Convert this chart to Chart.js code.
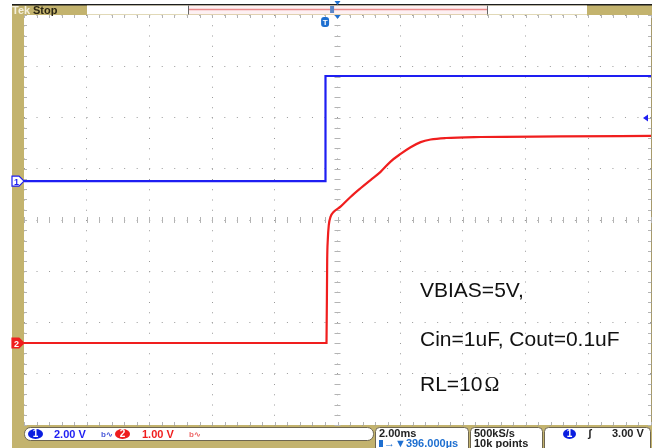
<!DOCTYPE html>
<html>
<head>
<meta charset="utf-8">
<script src="https://cdn.jsdelivr.net/npm/chart.js@4/dist/chart.umd.min.js"></script>
<style>
  html, body { margin: 0; padding: 0; background: #fff; }
  canvas { display: block; }
</style>
</head>
<body>
<canvas id="scope" width="657" height="448"></canvas>
<script>
// Time in ms relative to the trigger, amplitude in volts
const ch1Time  = [-9.604, 0.013, 0.013, 10.396];
const ch1Volts = [0, 0, 4.10, 4.10];

const ch2Time  = [-9.604, 0.045, 0.067, 0.086, 0.118, 0.173, 0.278, 0.492, 0.811, 1.131, 1.450,
                  1.770, 2.089, 2.409, 2.728, 3.048, 3.367, 3.847, 4.965, 7.52, 10.396];
const ch2Volts = [0, 0, 1.62, 2.01, 2.30, 2.46, 2.56, 2.66, 2.85, 3.02, 3.18,
                  3.34, 3.54, 3.69, 3.82, 3.92, 3.97, 4.00, 4.02, 4.03, 4.04];

const noteLines = ['VBIAS=5V,', 'Cin=1uF, Cout=0.1uF', 'RL=10'];

// horizontal: 2 ms/div, 10 divisions, screen centre 396 us after trigger
const timePerDiv = 2;
const timeCenter = 0.396;
const timeMin = timeCenter - 5 * timePerDiv;
const timeMax = timeCenter + 5 * timePerDiv;

// vertical: 8 divisions, per channel volts/div and ground offset (div above centre)
const ch1Scale = 2, ch1Offset = 0.76;
const ch2Scale = 1, ch2Offset = -2.4;

const GOLD = '#c3b36e';
const BLUE = '#1e1ef2';
const RED = '#f01e1e';

function pts(t, v) { return t.map((x, i) => ({ x: x, y: v[i] })); }

function pill(ctx, x, y, w, h, fill, txt, txtColor) {
  ctx.fillStyle = fill;
  ctx.beginPath();
  ctx.ellipse(x + w / 2, y + h / 2, w / 2, h / 2, 0, 0, Math.PI * 2);
  ctx.fill();
  ctx.fillStyle = txtColor;
  ctx.font = 'bold 10px "Liberation Sans"';
  ctx.textAlign = 'center';
  ctx.fillText(txt, x + w / 2, y + h - 2);
  ctx.textAlign = 'left';
}

function roundBox(ctx, x, y, w, h, r) {
  ctx.beginPath();
  ctx.roundRect(x, y, w, h, r);
  ctx.fillStyle = '#fff';
  ctx.fill();
  ctx.strokeStyle = '#6e6650';
  ctx.lineWidth = 1;
  ctx.stroke();
}

const scopeFrame = {
  id: 'scopeFrame',
  beforeDraw(chart) {
    const { ctx, chartArea: a } = chart;
    ctx.save();
    ctx.fillStyle = '#fff';
    ctx.fillRect(0, 0, chart.width, chart.height);
    ctx.fillStyle = GOLD;
    ctx.fillRect(12, 5, a.right + 1 - 12, chart.height - 5);
    ctx.fillStyle = '#1d1d1d';
    ctx.fillRect(12, 4, a.right + 1 - 12, 1.5);
    ctx.fillStyle = '#fff';
    ctx.fillRect(a.left, a.top, a.width, a.height);

    // record view bar on top
    ctx.fillStyle = '#fff';
    ctx.fillRect(87, 5.5, 101, 9);
    ctx.fillStyle = '#fdf0f2';
    ctx.fillRect(188, 5.5, 299, 9);
    ctx.fillStyle = '#fff';
    ctx.fillRect(487, 5.5, 100, 9);
    ctx.strokeStyle = '#e98a8a';
    ctx.lineWidth = 1.5;
    ctx.beginPath(); ctx.moveTo(189, 9.5); ctx.lineTo(487, 9.5); ctx.stroke();
    ctx.strokeStyle = '#666';
    ctx.lineWidth = 1;
    ctx.beginPath();
    ctx.moveTo(188.5, 5.5); ctx.lineTo(188.5, 14.5);
    ctx.moveTo(487.5, 5.5); ctx.lineTo(487.5, 14.5);
    ctx.stroke();

    ctx.font = 'bold 11px "Liberation Sans"';
    ctx.fillStyle = '#f4efdc';
    ctx.fillText('Tek', 12, 14);
    ctx.fillStyle = '#2b2614';
    ctx.fillText('Stop', 33, 14);

    // right edge of the graticule
    ctx.strokeStyle = '#a79a6a';
    ctx.beginPath(); ctx.moveTo(a.right + 0.5, a.top); ctx.lineTo(a.right + 0.5, a.bottom); ctx.stroke();
    ctx.restore();
  },
  beforeDatasetsDraw(chart) {
    const { ctx, chartArea: a, scales } = chart;
    const x = scales.x, g = scales.y;
    const cx = x.getPixelForValue(timeCenter);
    const cy = g.getPixelForValue(0);
    ctx.save();
    ctx.strokeStyle = '#b4b4b4';
    ctx.lineWidth = 1;
    ctx.beginPath();
    for (let k = 0; k <= 50; k++) {
      const px = Math.round(x.getPixelForValue(timeMin + k * timePerDiv / 5)) + 0.5;
      ctx.moveTo(px, cy - 3); ctx.lineTo(px, cy + 3);
      ctx.moveTo(px, a.top); ctx.lineTo(px, a.top + 3);
      ctx.moveTo(px, a.bottom); ctx.lineTo(px, a.bottom - 3);
    }
    for (let k = 0; k <= 40; k++) {
      const py = Math.round(g.getPixelForValue(-4 + k / 5)) + 0.5;
      ctx.moveTo(cx - 3, py); ctx.lineTo(cx + 3, py);
      ctx.moveTo(a.left, py); ctx.lineTo(a.left + 3, py);
      ctx.moveTo(a.right, py); ctx.lineTo(a.right - 3, py);
    }
    ctx.stroke();
    ctx.restore();
  },
  afterDraw(chart) {
    const { ctx, chartArea: a, scales } = chart;
    const x = scales.x;
    ctx.save();

    // channel ground markers
    const y1 = scales.ch1.getPixelForValue(0);
    const y2 = scales.ch2.getPixelForValue(0);
    const marker = (y, fill, stroke, txt, txtColor) => {
      ctx.beginPath();
      ctx.moveTo(12, y - 5); ctx.lineTo(19, y - 5); ctx.lineTo(24, y);
      ctx.lineTo(19, y + 5); ctx.lineTo(12, y + 5); ctx.closePath();
      ctx.fillStyle = fill; ctx.fill();
      ctx.strokeStyle = stroke; ctx.lineWidth = 1.2; ctx.stroke();
      ctx.fillStyle = txtColor;
      ctx.font = 'bold 9px "Liberation Sans"';
      ctx.fillText(txt, 14, y + 3.5);
    };
    marker(y1, '#fff', BLUE, '1', BLUE);
    marker(y2, RED, RED, '2', '#fff');

    // trigger level marker on the right
    const yl = scales.ch1.getPixelForValue(2.46);
    ctx.fillStyle = BLUE;
    ctx.beginPath();
    ctx.moveTo(643, yl); ctx.lineTo(648, yl - 3.5); ctx.lineTo(648, yl + 3.5); ctx.closePath();
    ctx.fill();

    // trigger position
    const xt = x.getPixelForValue(0);
    ctx.fillStyle = '#1e6fd0';
    ctx.beginPath(); ctx.roundRect(xt - 4, 17, 8, 10, 3); ctx.fill();
    ctx.fillStyle = '#fff';
    ctx.font = 'bold 8px "Liberation Sans"';
    ctx.textAlign = 'center';
    ctx.fillText('T', xt, 25);
    ctx.fillStyle = '#5b86c8';
    ctx.fillRect(xt + 5, 6, 4, 7);
    ctx.textAlign = 'left';

    // screen centre arrows
    const xc = x.getPixelForValue(timeCenter);
    ctx.fillStyle = '#1e6fd0';
    ctx.beginPath();
    ctx.moveTo(xc - 3, 1); ctx.lineTo(xc + 3, 1); ctx.lineTo(xc, 5); ctx.closePath();
    ctx.moveTo(xc - 3, 15); ctx.lineTo(xc + 3, 15); ctx.lineTo(xc, 19); ctx.closePath();
    ctx.fill();

    // test conditions
    ctx.fillStyle = '#111';
    ctx.font = '21px "Liberation Sans"';
    ctx.fillText(noteLines[0], 420, 297);
    ctx.fillText(noteLines[1], 420, 346);
    ctx.fillText(noteLines[2], 420, 391);
    const w = ctx.measureText(noteLines[2]).width;
    ctx.font = '20px "Liberation Serif"';
    ctx.fillText('\u03A9', 420 + w + 2, 391);

    // readout boxes
    roundBox(ctx, 24.5, 427.5, 349, 13, 6);
    roundBox(ctx, 375.5, 427.5, 93, 25, 4);
    roundBox(ctx, 470.5, 427.5, 72, 25, 4);
    roundBox(ctx, 544.5, 427.5, 106, 25, 4);

    ctx.font = 'bold 11px "Liberation Sans"';
    pill(ctx, 28, 429, 15, 10, '#0a1ee0', '1', '#fff');
    ctx.fillStyle = BLUE;
    ctx.font = 'bold 11px "Liberation Sans"';
    ctx.fillText('2.00 V', 54, 438);
    ctx.font = 'bold 8px "Liberation Sans"';
    ctx.fillStyle = '#4a5ad8';
    ctx.fillText('b\u223F', 101, 437);
    pill(ctx, 115, 429, 15, 10, '#ee1c1c', '2', '#fff');
    ctx.fillStyle = RED;
    ctx.font = 'bold 11px "Liberation Sans"';
    ctx.fillText('1.00 V', 142, 438);
    ctx.font = 'bold 8px "Liberation Sans"';
    ctx.fillStyle = '#ee6a6a';
    ctx.fillText('b\u223F', 189, 437);

    ctx.font = 'bold 11px "Liberation Sans"';
    ctx.fillStyle = '#222';
    ctx.fillText('2.00ms', 379, 437);
    ctx.fillText('500kS/s', 474, 437);
    ctx.fillText('10k points', 474, 447);
    ctx.fillStyle = '#1e6fd0';
    ctx.fillRect(379, 440, 4, 7);
    ctx.fillText('\u2192\u25BC396.000\u00B5s', 384, 447);

    pill(ctx, 563, 429, 13, 10, '#0a1ee0', '1', '#fff');
    ctx.fillStyle = '#222';
    ctx.font = 'bold 11px "Liberation Sans"';
    ctx.fillText('\u0283', 588, 437);
    ctx.fillText('3.00 V', 612, 437);
    ctx.restore();
  }
};

new Chart(document.getElementById('scope').getContext('2d'), {
  type: 'line',
  data: {
    datasets: [{
      label: 'Ch1',
      data: pts(ch1Time, ch1Volts),
      yAxisID: 'ch1',
      borderColor: BLUE,
      borderWidth: 2.2,
      pointRadius: 0,
      tension: 0
    }, {
      label: 'Ch2',
      data: pts(ch2Time, ch2Volts),
      yAxisID: 'ch2',
      borderColor: RED,
      borderWidth: 2.2,
      pointRadius: 0,
      cubicInterpolationMode: 'monotone'
    }]
  },
  options: {
    responsive: false,
    animation: false,
    events: [],
    layout: { padding: { left: 24, top: 15, right: 6, bottom: 23 } },
    plugins: { legend: { display: false }, tooltip: { enabled: false } },
    scales: {
      x: {
        type: 'linear',
        min: timeMin,
        max: timeMax,
        afterBuildTicks: ax => { ax.ticks = Array.from({ length: 11 }, (_, k) => ({ value: timeMin + k * timePerDiv })); },
        ticks: { display: false },
        grid: { color: '#9a9a9a', drawTicks: false },
        border: { display: false, dash: [1, 9.25] }
      },
      y: {
        type: 'linear',
        position: 'left',
        min: -4,
        max: 4,
        ticks: { display: false, stepSize: 1 },
        grid: { color: '#9a9a9a', drawTicks: false },
        border: { display: false, dash: [1, 11.52] }
      },
      ch1: {
        type: 'linear',
        display: false,
        min: (-4 - ch1Offset) * ch1Scale,
        max: (4 - ch1Offset) * ch1Scale
      },
      ch2: {
        type: 'linear',
        display: false,
        min: (-4 - ch2Offset) * ch2Scale,
        max: (4 - ch2Offset) * ch2Scale
      }
    }
  },
  plugins: [scopeFrame]
});
</script>
</body>
</html>
